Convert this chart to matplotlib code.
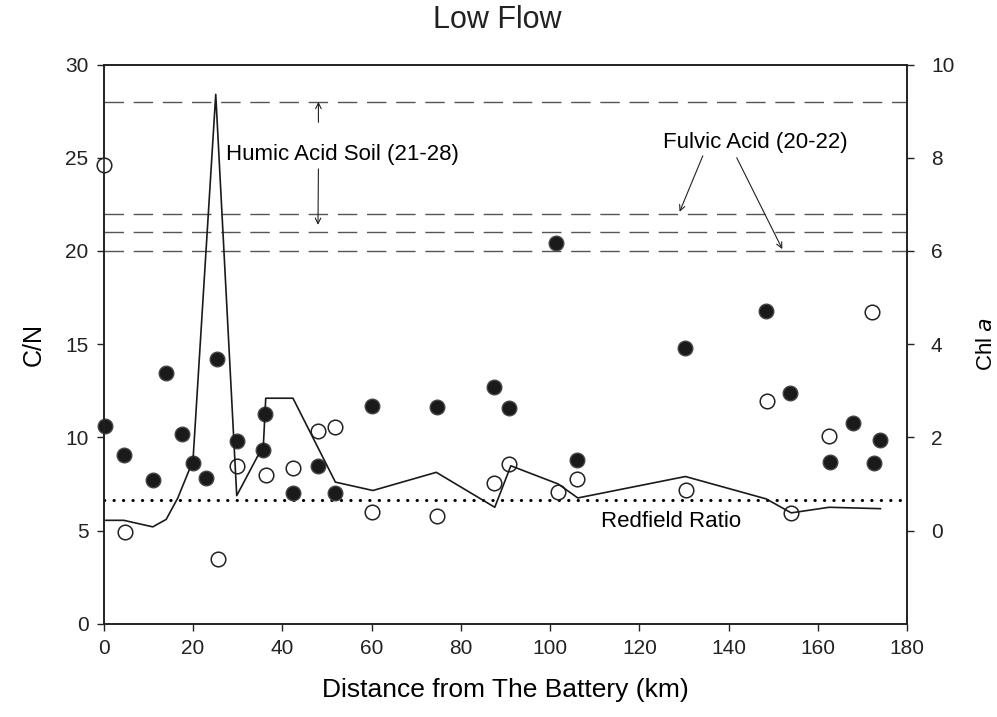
import matplotlib
matplotlib.use("Agg")
import matplotlib.pyplot as plt

plt.rcParams['font.family'] = ['Liberation Sans', 'DejaVu Sans']

# C/N, filled circles (left axis)
dist_filled = [0.2, 4.6, 11.0, 14.0, 17.5, 20.0, 22.9, 25.3, 29.8, 35.7, 36.2,
               42.3, 48.0, 51.9, 60.1, 74.6, 87.5, 90.9, 101.3, 106.1, 130.3,
               148.4, 153.8, 162.6, 167.9, 172.6, 174.0]
cn_filled = [10.6, 9.05, 7.7, 13.45, 10.2, 8.6, 7.8, 14.2, 9.8, 9.3, 11.25,
             7.0, 8.45, 7.0, 11.7, 11.65, 12.7, 11.6, 20.45, 8.8, 14.8,
             16.8, 12.4, 8.7, 10.75, 8.6, 9.85]

# C/N, open circles (left axis)
dist_open = [0.0, 4.7, 25.5, 29.8, 36.3, 42.3, 48.1, 51.8, 60.2, 74.6, 87.4,
             90.9, 101.8, 106.1, 130.5, 148.5, 154.0, 162.5, 172.2]
cn_open = [24.6, 4.9, 3.45, 8.45, 8.0, 8.35, 10.35, 10.55, 6.0, 5.8, 7.55,
           8.55, 7.05, 7.75, 7.15, 11.95, 5.95, 10.1, 16.75]

# Chl a line (right axis)
dist_chl = [0.5, 4.5, 11.0, 14.0, 16.6, 20.0, 25.1, 29.8, 34.5, 35.7, 36.3,
            42.4, 51.9, 60.3, 74.5, 87.6, 91.2, 101.8, 106.2, 130.3, 148.4,
            154.0, 162.5, 174.0]
chl = [0.22, 0.22, 0.08, 0.24, 0.7, 1.5, 9.36, 0.75, 1.6, 1.7, 2.84,
       2.84, 1.04, 0.86, 1.25, 0.5, 1.39, 1.0, 0.7, 1.16, 0.68,
       0.38, 0.5, 0.47]

ref_lines = [28, 22, 21, 20]
redfield = 6.625

fig = plt.figure(figsize=(9.97, 7.17), dpi=100)
ax = fig.add_axes([0.104, 0.13, 0.806, 0.78])
ax2 = ax.twinx()

for y in ref_lines:
    ax.axhline(y, color='#555555', lw=1.0, linestyle=(0, (14, 7)), zorder=1)
ax.axhline(redfield, color='black', lw=2.2, linestyle=(0, (0.1, 3.0)),
           dash_capstyle='round', zorder=1)

ax.plot(dist_filled, cn_filled, 'o', ms=10.5, mfc='#1a1a1a', mec='#444444',
        mew=1.0, zorder=3, clip_on=False)
ax.plot(dist_open, cn_open, 'o', ms=10.5, mfc='white', mec='#222222',
        mew=1.1, zorder=3, clip_on=False)

ax2.plot(dist_chl, chl, color='#1a1a1a', lw=1.2, zorder=2)

ax.set_xlim(0, 180)
ax.set_ylim(0, 30)
ax2.set_ylim(-2, 10)
ax.set_xticks(range(0, 181, 20))
ax.set_yticks(range(0, 31, 5))
ax2.set_yticks(range(0, 11, 2))

ax.tick_params(labelsize=15, length=5, width=1, colors='#222222', pad=6)
ax2.tick_params(labelsize=15, length=5, width=1, colors='#222222', pad=12)
for a in (ax, ax2):
    for s in a.spines.values():
        s.set_linewidth(1.2)
        s.set_color('#222222')

ax.set_xlabel("Distance from The Battery (km)", fontsize=19, labelpad=14)
ax.set_ylabel("C/N", fontsize=18, labelpad=14)
ax2.set_ylabel("Chl $\\it{a}$", fontsize=16, labelpad=16)
ax.set_title("Low Flow", fontsize=22, pad=26, x=0.49, color='#222222')

# annotations
ax.text(53.5, 25.2, "Humic Acid Soil (21-28)", fontsize=16, ha='center', va='center')
arrow = dict(arrowstyle='->', lw=0.8, color='#222222', shrinkA=0, shrinkB=0)
ax.annotate('', xy=(48.1, 28.0), xytext=(48.1, 26.9), arrowprops=arrow)
ax.annotate('', xy=(48.0, 21.4), xytext=(48.1, 24.4), arrowprops=arrow)

ax.text(146.0, 25.8, "Fulvic Acid (20-22)", fontsize=16, ha='center', va='center')
ax.annotate('', xy=(129.0, 22.1), xytext=(134.2, 25.1), arrowprops=arrow)
ax.annotate('', xy=(152.0, 20.1), xytext=(141.8, 25.0), arrowprops=arrow)

ax.text(127.0, 5.5, "Redfield Ratio", fontsize=16, ha='center', va='center')

fig.savefig("out.png", dpi=100)
